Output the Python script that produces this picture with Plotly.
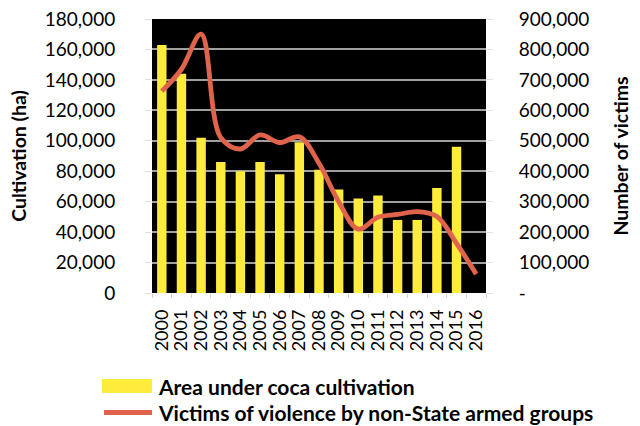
import plotly.graph_objects as go

years = [str(y) for y in range(2000, 2017)]
cultivation_ha = [163000, 144000, 102000, 86000, 80000, 86000, 78000, 99000, 81000,
                  68000, 62000, 64000, 48000, 48000, 69000, 96000, None]
victims = [663000, 735000, 850000, 510000, 473000, 519000, 494000, 513000, 426000,
           300000, 210000, 249000, 258000, 267000, 251000, 163000, 62000]
left_ticks = list(range(0, 180001, 20000))
left_ticktext = [f"{v:,}" for v in left_ticks]
right_ticks = list(range(0, 900001, 100000))
right_ticktext = ["-"] + [f"{v:,}" for v in right_ticks[1:]]

bar_name = "Area under coca cultivation"
line_name = "Victims of violence by non-State armed groups"
BAR_COLOR = "#FFEB3B"
LINE_COLOR = "#E0634B"
FONT = "Lato"

fig = go.Figure()
fig.add_trace(go.Bar(x=years, y=cultivation_ha, name=bar_name, marker_color=BAR_COLOR,
                     marker_line_width=0, yaxis="y", showlegend=False))
fig.add_trace(go.Scatter(x=years, y=victims, name=line_name, mode="lines",
                         line=dict(color=LINE_COLOR, width=4.8, shape="spline", smoothing=1.0),
                         yaxis="y2", showlegend=False))

fig.update_layout(
    width=640, height=426,
    margin=dict(l=152, r=154, t=19, b=133, pad=0, autoexpand=False),
    paper_bgcolor="white", plot_bgcolor="black",
    bargap=0.52,
    font=dict(family=FONT, size=19, color="black"),
    xaxis=dict(type="category", tickangle=-90, tickfont=dict(size=18),
               tickmode="array", tickvals=years, ticktext=years,
               ticks="outside", tickson="boundaries", ticklen=4, tickcolor="#D0D0D0",
               showgrid=False, zeroline=False, ticklabelstandoff=12, automargin=False),
    yaxis=dict(range=[0, 180000], tickvals=left_ticks, ticktext=left_ticktext,
               gridcolor="#A0A0A0", gridwidth=1.5, zeroline=False,
               ticks="outside", ticklen=6, tickcolor="#E0E0E0", ticklabelstandoff=26,
               automargin=False,
               title=dict(text="<b>Cultivation (ha)</b>", font=dict(size=19.5), standoff=12)),
    yaxis2=dict(range=[0, 900000], tickvals=right_ticks, ticktext=right_ticktext,
                overlaying="y", side="right", showgrid=False, zeroline=False,
                ticks="outside", ticklen=6, tickcolor="#E0E0E0", ticklabelstandoff=22,
                automargin=False,
                title=dict(text="<b>Number of victims</b>", font=dict(size=19.5), standoff=26)),
)

# Custom legend (wide swatches as in the reference)
fig.add_shape(type="rect", xref="paper", yref="paper",
              x0=(102 - 152) / 334, x1=(152 - 152) / 334,
              y0=(293 - 393) / 274, y1=(293 - 379) / 274,
              fillcolor=BAR_COLOR, line_width=0)
fig.add_shape(type="line", xref="paper", yref="paper",
              x0=(104 - 152) / 334, x1=(152 - 152) / 334,
              y0=(293 - 412.5) / 274, y1=(293 - 412.5) / 274,
              line=dict(color=LINE_COLOR, width=4.8))
fig.add_annotation(text=f"<b>{bar_name}</b>", xref="paper", yref="paper",
                   x=(156 - 152) / 334, y=(293 - 386) / 274, xanchor="left", yanchor="middle",
                   showarrow=False, font=dict(size=21))
fig.add_annotation(text=f"<b>{line_name}</b>", xref="paper", yref="paper",
                   x=(156 - 152) / 334, y=(293 - 412.5) / 274, xanchor="left", yanchor="middle",
                   showarrow=False, font=dict(size=21))

fig.write_html("out.html", config={"displayModeBar": False},
               post_script="document.body.style.margin='0';")
